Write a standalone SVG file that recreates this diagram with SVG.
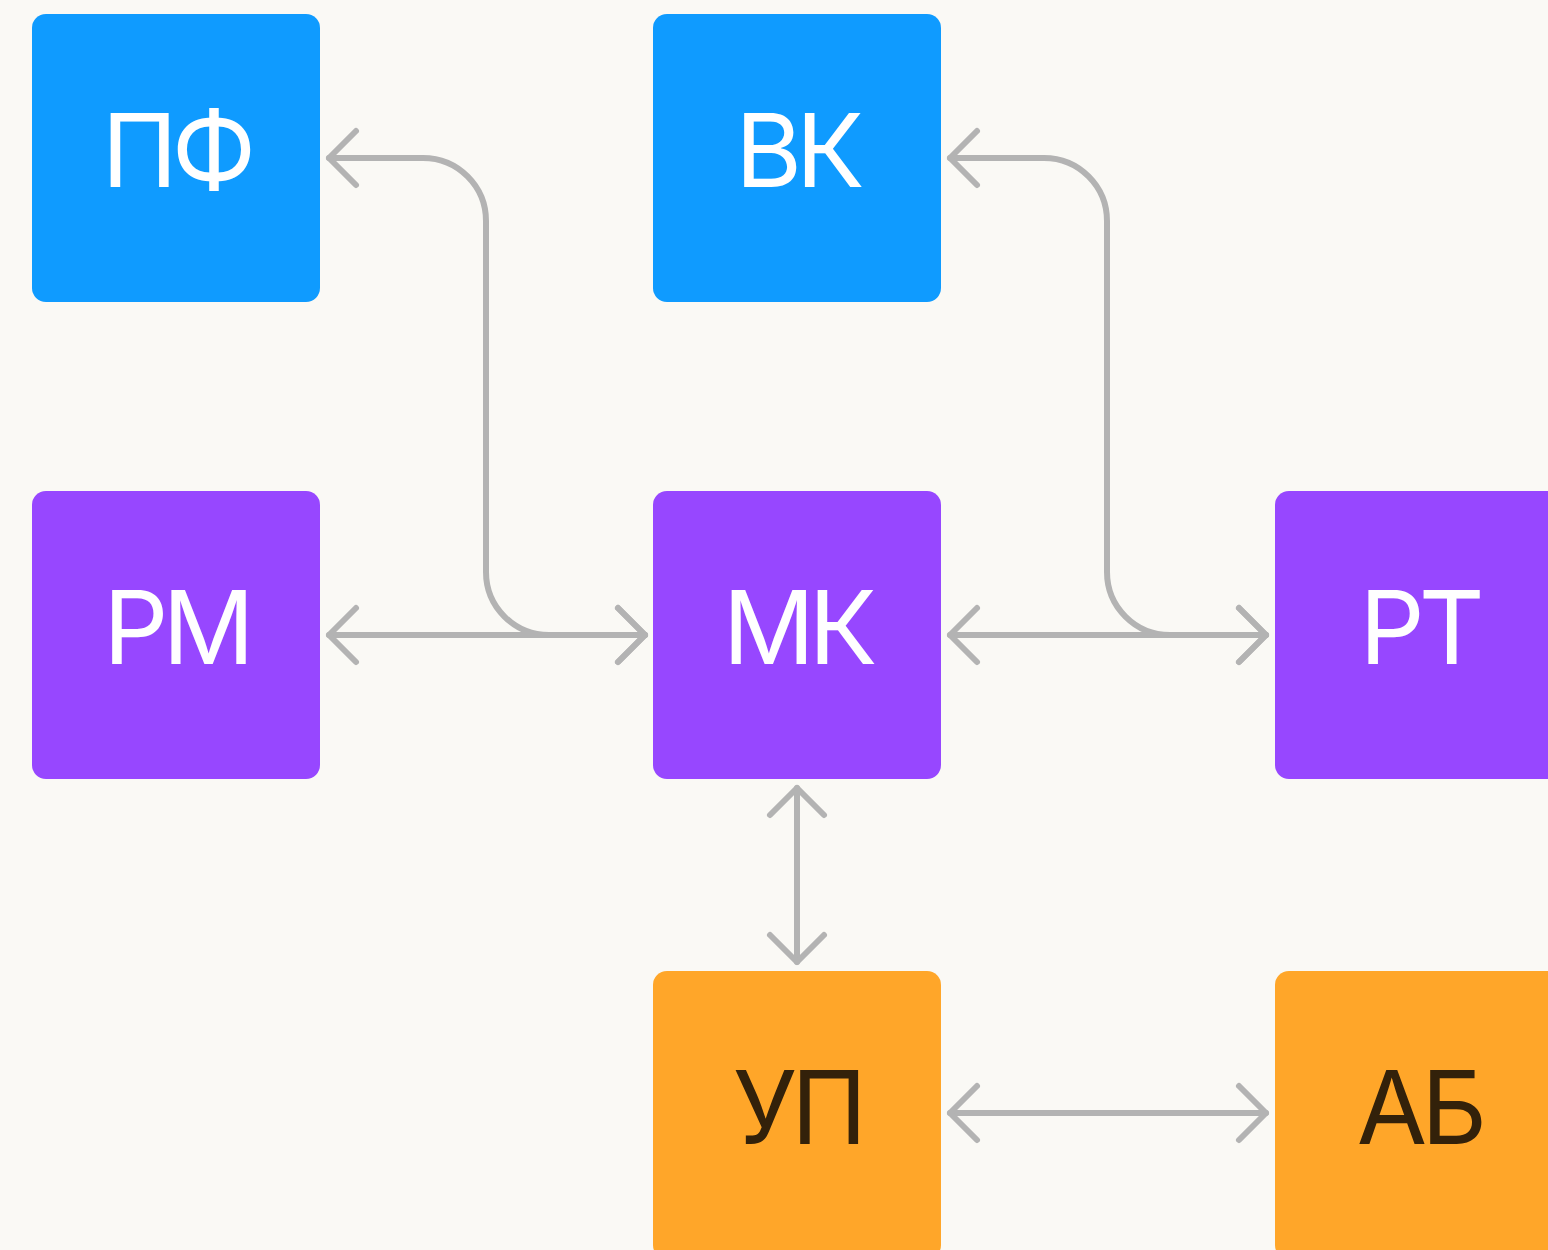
<svg xmlns="http://www.w3.org/2000/svg" width="1548" height="1250" viewBox="0 0 1548 1250">
  <style>
    .blue { fill: #0f9bff; }
    .purple { fill: #9747ff; }
    .orange { fill: #ffa629; }
    .lbl { font-family: Inter, "Liberation Sans", Arial, sans-serif; font-size: 102px; font-weight: 400; letter-spacing: -6px; text-anchor: middle; }
    .light { fill: #ffffff; }
    .dark { fill: #33210a; }
    .conn { fill: none; stroke: #b3b3b3; stroke-width: 6; stroke-linecap: round; stroke-linejoin: round; marker-start: url(#chev); marker-end: url(#chev); }
  </style>
  <defs>
    <marker id="chev" markerUnits="userSpaceOnUse" orient="auto-start-reverse" refX="0" refY="0" markerWidth="60" markerHeight="60" overflow="visible">
      <path d="M-27,-27 L0,0 L-27,27" fill="none" stroke="#b3b3b3" stroke-width="6" stroke-linecap="round" stroke-linejoin="round"/>
    </marker>
  </defs>
  <rect width="1548" height="1250" fill="#faf9f5"/>

  <g id="connectors">
    <path class="conn" d="M329,158 H423 A63,63 0 0 1 486,221 V572 A63,63 0 0 0 549,635 H645"/>
    <path class="conn" d="M329,635 H645"/>
    <path class="conn" d="M950,158 H1044 A63,63 0 0 1 1107,221 V572 A63,63 0 0 0 1170,635 H1266"/>
    <path class="conn" d="M950,635 H1266"/>
    <path class="conn" d="M797,788 V962"/>
    <path class="conn" d="M950,1113 H1266"/>
  </g>

  <g id="node-pf">
    <rect class="blue" x="32" y="14" width="288" height="288" rx="14"/>
    <text class="lbl light" x="176" y="187">ПФ</text>
  </g>
  <g id="node-vk">
    <rect class="blue" x="653" y="14" width="288" height="288" rx="14"/>
    <text class="lbl light" x="797" y="187">ВК</text>
  </g>
  <g id="node-rm">
    <rect class="purple" x="32" y="491" width="288" height="288" rx="14"/>
    <text class="lbl light" x="176" y="664">РМ</text>
  </g>
  <g id="node-mk">
    <rect class="purple" x="653" y="491" width="288" height="288" rx="14"/>
    <text class="lbl light" x="797" y="664">МК</text>
  </g>
  <g id="node-pt">
    <rect class="purple" x="1275" y="491" width="288" height="288" rx="14"/>
    <text class="lbl light" x="1419" y="664">РТ</text>
  </g>
  <g id="node-up">
    <rect class="orange" x="653" y="971" width="288" height="288" rx="14"/>
    <text class="lbl dark" x="797" y="1144">УП</text>
  </g>
  <g id="node-ab">
    <rect class="orange" x="1275" y="971" width="288" height="288" rx="14"/>
    <text class="lbl dark" x="1419" y="1144">АБ</text>
  </g>
</svg>
